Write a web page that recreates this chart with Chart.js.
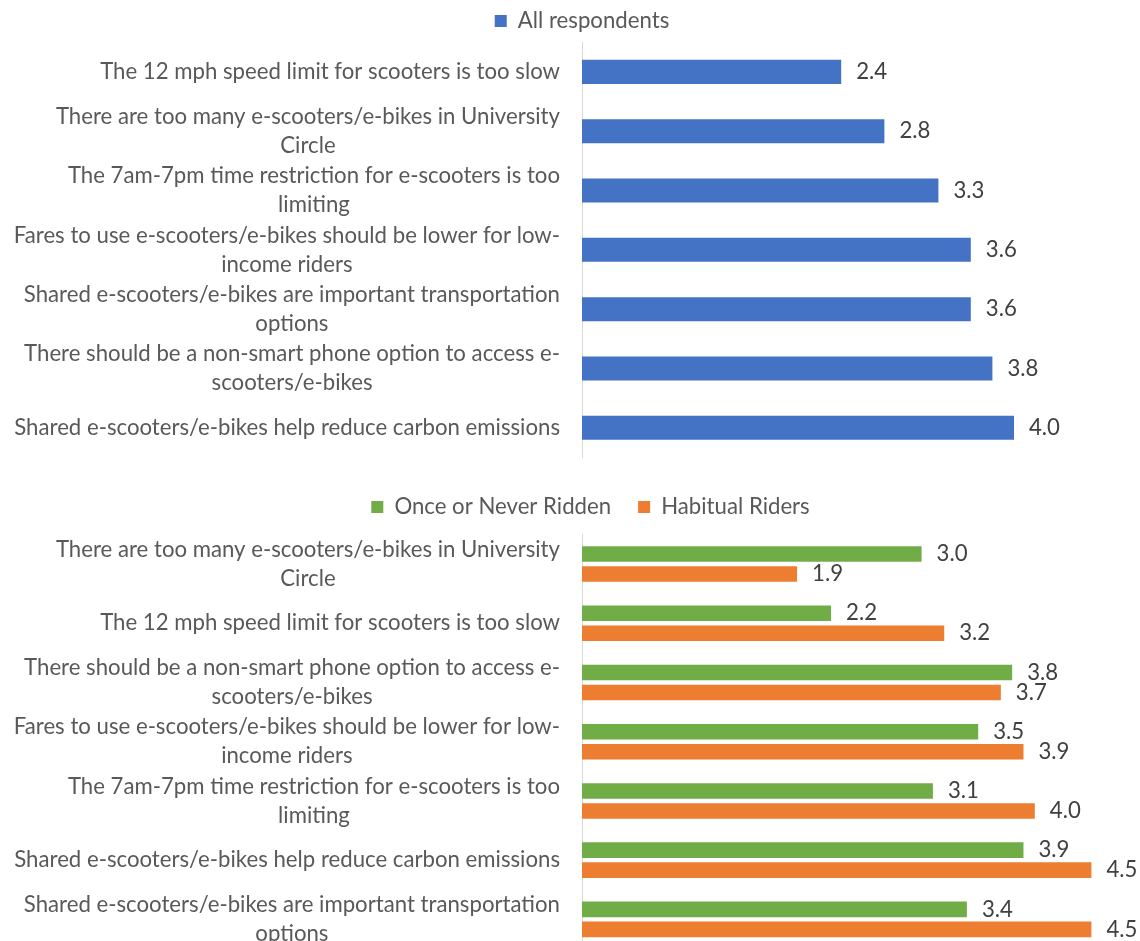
<!DOCTYPE html>
<html>
<head>
<meta charset="utf-8">
<script src="https://cdn.jsdelivr.net/npm/chart.js@4.4.1/dist/chart.umd.min.js"></script>
<style>
  html, body { margin: 0; padding: 0; background: #fff; overflow: hidden; width: 1140px; height: 941px; }
  canvas { position: absolute; left: 0; }
  #allChart { top: 0; }
  #riderChart { top: 460px; }
</style>
</head>
<body>
<canvas id="allChart" width="1140" height="460"></canvas>
<canvas id="riderChart" width="1160" height="490"></canvas>
<script>
const FONT = 'Lato, "Open Sans", sans-serif';
const FONT_SIZE = 22.2;
const TEXT_GREY = '#595959';
const VALUE_GREY = '#404040';

// ---- all respondents ----
const allLabels = [
  ['The 12 mph speed limit for scooters is too slow'],
  ['There are too many e-scooters/e-bikes in University', 'Circle'],
  ['The 7am-7pm time restriction for e-scooters is too', 'limiting'],
  ['Fares to use e-scooters/e-bikes should be lower for low-', 'income riders'],
  ['Shared e-scooters/e-bikes are important transportation', 'options'],
  ['There should be a non-smart phone option to access e-', 'scooters/e-bikes'],
  ['Shared e-scooters/e-bikes help reduce carbon emissions']
];
const allScores = [2.4, 2.8, 3.3, 3.6, 3.6, 3.8, 4.0];

// ---- by riding habit ----
const riderLabels = [
  ['There are too many e-scooters/e-bikes in University', 'Circle'],
  ['The 12 mph speed limit for scooters is too slow'],
  ['There should be a non-smart phone option to access e-', 'scooters/e-bikes'],
  ['Fares to use e-scooters/e-bikes should be lower for low-', 'income riders'],
  ['The 7am-7pm time restriction for e-scooters is too', 'limiting'],
  ['Shared e-scooters/e-bikes help reduce carbon emissions'],
  ['Shared e-scooters/e-bikes are important transportation', 'options']
];
const onceNeverScores = [3.0, 2.2, 3.8, 3.5, 3.1, 3.9, 3.4];
const habitualScores = [1.9, 3.2, 3.7, 3.9, 4.0, 4.5, 4.5];

// category text: each label block right-aligned, lines centred inside it
const sideLabels = {
  id: 'sideLabels',
  afterDraw(chart, args, opts) {
    const ctx = chart.ctx;
    const y = chart.scales.y;
    ctx.save();
    ctx.font = FONT_SIZE + 'px ' + FONT;
    ctx.fillStyle = TEXT_GREY;
    ctx.textAlign = 'center';
    ctx.textBaseline = 'middle';
    chart.data.labels.forEach((lines, i) => {
      const w = Math.max(...lines.map(l => ctx.measureText(l).width));
      const cx = opts.right - w / 2;
      const cy = y.getPixelForTick(i);
      lines.forEach((line, j) => {
        ctx.fillText(line, cx, cy + (j - (lines.length - 1) / 2) * opts.lineHeight);
      });
    });
    ctx.restore();
  }
};

// value printed just past the end of each bar
const barValues = {
  id: 'barValues',
  afterDatasetsDraw(chart) {
    const ctx = chart.ctx;
    ctx.save();
    ctx.font = FONT_SIZE + 'px ' + FONT;
    ctx.fillStyle = VALUE_GREY;
    ctx.textAlign = 'left';
    ctx.textBaseline = 'middle';
    chart.data.datasets.forEach((ds, di) => {
      chart.getDatasetMeta(di).data.forEach((bar, i) => {
        ctx.fillText(ds.data[i].toFixed(1), bar.x + 15, bar.y);
      });
    });
    ctx.restore();
  }
};

function legendOpts(gap) {
  return {
    labels: {
      boxWidth: 12,
      boxHeight: 12,
      padding: gap,
      color: TEXT_GREY,
      font: { family: FONT, size: FONT_SIZE }
    }
  };
}

function scaleOpts(topGap, axisWidth) {
  return {
    x: {
      position: 'top',
      min: 0,
      max: 5,
      grid: { display: false },
      border: { display: false },
      ticks: { display: false },
      afterFit: s => { s.height = topGap; }
    },
    y: {
      grid: { display: false },
      border: { color: '#D9D9D9', width: 1 },
      ticks: { display: false },
      afterFit: s => { s.width = axisWidth; }
    }
  };
}

new Chart(document.getElementById('allChart'), {
  type: 'bar',
  data: {
    labels: allLabels,
    datasets: [{
      label: 'All respondents',
      data: allScores,
      backgroundColor: '#4472C4',
      barPercentage: 0.405,
      categoryPercentage: 1
    }]
  },
  options: {
    indexAxis: 'y',
    responsive: false,
    animation: false,
    layout: { padding: { left: 42, right: 18, top: 0, bottom: 2.5 } },
    scales: scaleOpts(0, 540),
    plugins: {
      legend: legendOpts(10),
      tooltip: { enabled: false },
      sideLabels: { right: 560, lineHeight: 29 }
    }
  },
  plugins: [sideLabels, barValues]
});

new Chart(document.getElementById('riderChart'), {
  type: 'bar',
  data: {
    labels: riderLabels,
    datasets: [{
      label: 'Once or Never Ridden',
      data: onceNeverScores,
      backgroundColor: '#70AD47',
      barPercentage: 0.78,
      categoryPercentage: 0.675
    }, {
      label: 'Habitual Riders',
      data: habitualScores,
      backgroundColor: '#ED7D31',
      barPercentage: 0.78,
      categoryPercentage: 0.675
    }]
  },
  options: {
    indexAxis: 'y',
    responsive: false,
    animation: false,
    layout: { padding: { left: 33, right: 12, top: 8.9, bottom: 1 } },
    scales: scaleOpts(6.3, 549),
    plugins: {
      legend: legendOpts(27),
      tooltip: { enabled: false },
      sideLabels: { right: 560, lineHeight: 29 }
    }
  },
  plugins: [sideLabels, barValues]
});
</script>
</body>
</html>
